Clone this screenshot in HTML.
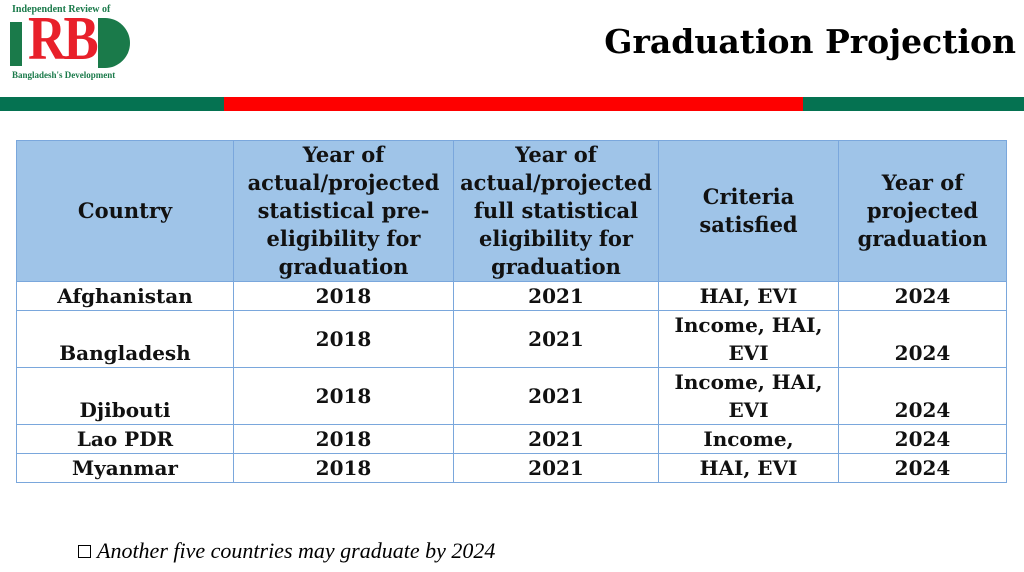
<!DOCTYPE html>
<html><head><style>
body{margin:0;width:1024px;height:572px;background:#fff;position:relative;overflow:hidden;font-family:"DejaVu Serif","Liberation Serif",serif;}
.bar{position:absolute;top:97px;height:14px}
table{position:absolute;left:16px;top:140px;border-collapse:collapse;width:990px;table-layout:fixed}
td,th{border:1.5px solid #7aa7dc;text-align:center;font-weight:bold;font-size:20px;color:#111;padding:0;line-height:28px}
th{background:#9fc4e8;height:137px;font-size:21px;line-height:28px}
</style></head><body>
<div style="position:absolute;left:12px;top:4px;font:bold 10px 'Liberation Serif',serif;color:#1a7a4a">Independent Review of</div>
<div style="position:absolute;left:10px;top:22px;width:12px;height:44px;background:#1a7a4a"></div>
<div style="position:absolute;left:28px;top:8px;font:bold 62px/62px 'Liberation Serif',serif;color:#e8202a;letter-spacing:-3px;transform:scaleX(0.85);transform-origin:left">RB</div>
<div style="position:absolute;left:98px;top:18px;width:32px;height:50px;background:#1a7a4a;border-radius:0 26px 26px 0"></div>
<div style="position:absolute;left:12px;top:70px;font:bold 9px 'Liberation Serif',serif;color:#1a7a4a">Bangladesh's Development</div>
<div style="position:absolute;right:8px;top:22px;font:bold 33px 'DejaVu Serif',serif;color:#000">Graduation Projection</div>
<div class="bar" style="left:0;width:224px;background:#057251"></div>
<div class="bar" style="left:224px;width:579px;background:#fe0000"></div>
<div class="bar" style="left:803px;width:221px;background:#057251"></div>
<table>
<colgroup><col style="width:217px"><col style="width:220px"><col style="width:205px"><col style="width:180px"><col style="width:168px"></colgroup>
<tr><th>Country</th><th>Year of actual/projected statistical pre-eligibility for graduation</th><th>Year of actual/projected full statistical eligibility for graduation</th><th>Criteria satisfied</th><th>Year of projected graduation</th></tr>
<tr style="height:29px"><td>Afghanistan</td><td>2018</td><td>2021</td><td>HAI, EVI</td><td>2024</td></tr>
<tr style="height:57px"><td style="vertical-align:bottom">Bangladesh</td><td>2018</td><td>2021</td><td>Income, HAI,<br>EVI</td><td style="vertical-align:bottom">2024</td></tr>
<tr style="height:57px"><td style="vertical-align:bottom">Djibouti</td><td>2018</td><td>2021</td><td>Income, HAI,<br>EVI</td><td style="vertical-align:bottom">2024</td></tr>
<tr style="height:29px"><td>Lao PDR</td><td>2018</td><td>2021</td><td>Income,</td><td>2024</td></tr>
<tr style="height:27px"><td>Myanmar</td><td>2018</td><td>2021</td><td>HAI, EVI</td><td>2024</td></tr>
</table>
<div style="position:absolute;left:78px;top:545px;width:11px;height:11px;border:1.5px solid #000"></div>
<div style="position:absolute;left:97px;top:538px;font:italic 22px 'Liberation Serif',serif;color:#000">Another five countries may graduate by 2024</div>
</body></html>
